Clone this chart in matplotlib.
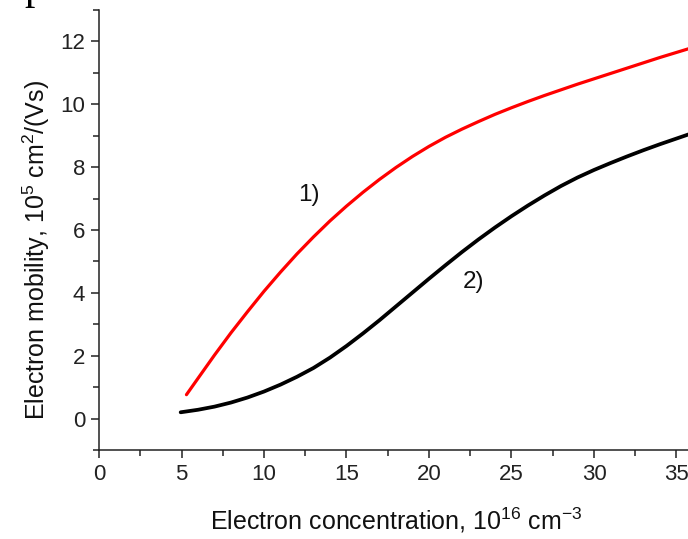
import matplotlib
matplotlib.use("Agg")
import matplotlib.pyplot as plt
from matplotlib.ticker import MultipleLocator

plt.rcParams['font.family'] = ['Liberation Sans', 'DejaVu Sans']
plt.rcParams['mathtext.default'] = 'regular'

# Curve 1) (red)
x1 = [5.3, 6, 7, 8, 9, 10, 11, 12, 13, 14, 15, 16, 17, 18, 19, 20, 21, 22,
      23, 24, 25, 26, 27, 28, 29, 30, 31, 32, 33, 34, 35, 36]
y1 = [0.76, 1.28, 2.02, 2.73, 3.40, 4.05, 4.66, 5.24, 5.78, 6.29, 6.76, 7.20,
      7.61, 7.99, 8.34, 8.66, 8.95, 9.21, 9.45, 9.68, 9.89, 10.09, 10.28,
      10.46, 10.64, 10.81, 10.98, 11.15, 11.32, 11.49, 11.65, 11.81]

# Curve 2) (black)
x2 = [4.95, 6, 7, 8, 9, 10, 11, 12, 13, 14, 15, 16, 17, 18, 19, 20, 21, 22,
      23, 24, 25, 26, 27, 28, 29, 30, 31, 32, 33, 34, 35, 36]
y2 = [0.20, 0.28, 0.38, 0.51, 0.67, 0.86, 1.08, 1.33, 1.61, 1.94, 2.31, 2.71,
      3.13, 3.57, 4.01, 4.45, 4.88, 5.30, 5.70, 6.08, 6.44, 6.78, 7.10, 7.40,
      7.67, 7.91, 8.13, 8.34, 8.54, 8.73, 8.91, 9.09]

x_ticks = [0, 5, 10, 15, 20, 25, 30, 35]
y_ticks = [0, 2, 4, 6, 8, 10, 12]

W, H = 688, 539
fig = plt.figure(figsize=(W / 100, H / 100), dpi=100)
left, bottom, top = 99, 89, 529
px_per_x = 16.5
xmax = 36
ax = fig.add_axes([left / W, bottom / H, xmax * px_per_x / W, (top - bottom) / H])

ax.plot(x1, y1, color='#ff0000', lw=2.3, solid_capstyle='round',
        solid_joinstyle='round')
ax.plot(x2, y2, color='black', lw=2.7, solid_capstyle='round',
        solid_joinstyle='round')

ax.set_xlim(0, xmax)
ax.set_ylim(-1, 13)
ax.set_xticks(x_ticks)
ax.set_yticks(y_ticks)
ax.xaxis.set_minor_locator(MultipleLocator(2.5))
ax.yaxis.set_minor_locator(MultipleLocator(1))

for s in ['top', 'right']:
    ax.spines[s].set_visible(False)
for s in ['left', 'bottom']:
    ax.spines[s].set_linewidth(1.1)
    ax.spines[s].set_color('#222222')

ax.tick_params(which='major', direction='out', length=6, width=1.1,
               labelsize=16, pad=4, colors='#222222')
ax.tick_params(which='minor', direction='out', length=4, width=1.1,
               colors='#222222')

ax.set_xlabel(r'Electron concentration, 10$^{16}$ cm$^{-3}$', fontsize=18,
              color='#111111')
ax.xaxis.set_label_coords(0.5, -(520 - 450) / 440, transform=ax.transAxes)
ax.xaxis.label.set_va('center')
ax.set_ylabel(r'Electron mobility, 10$^{5}$ cm$^{2}$/(Vs)', fontsize=18,
              color='#111111')
ax.yaxis.set_label_coords(-(99 - 36) / (xmax * px_per_x), (450 - 250) / 440,
                          transform=ax.transAxes)
ax.yaxis.label.set_va('center')

ax.text(12.7, 7.1, '1)', fontsize=17.5, ha='center', va='center', color='#111111')
ax.text(22.7, 4.36, '2)', fontsize=17.5, ha='center', va='center', color='#111111')

# fragment of surrounding text at the top edge
fig.text(24 / W, 1 + 1.5 / H, 'p', family=['Liberation Serif', 'DejaVu Serif'],
         fontsize=30, ha='left', va='baseline', color='black')

fig.savefig('out.png', dpi=100)
